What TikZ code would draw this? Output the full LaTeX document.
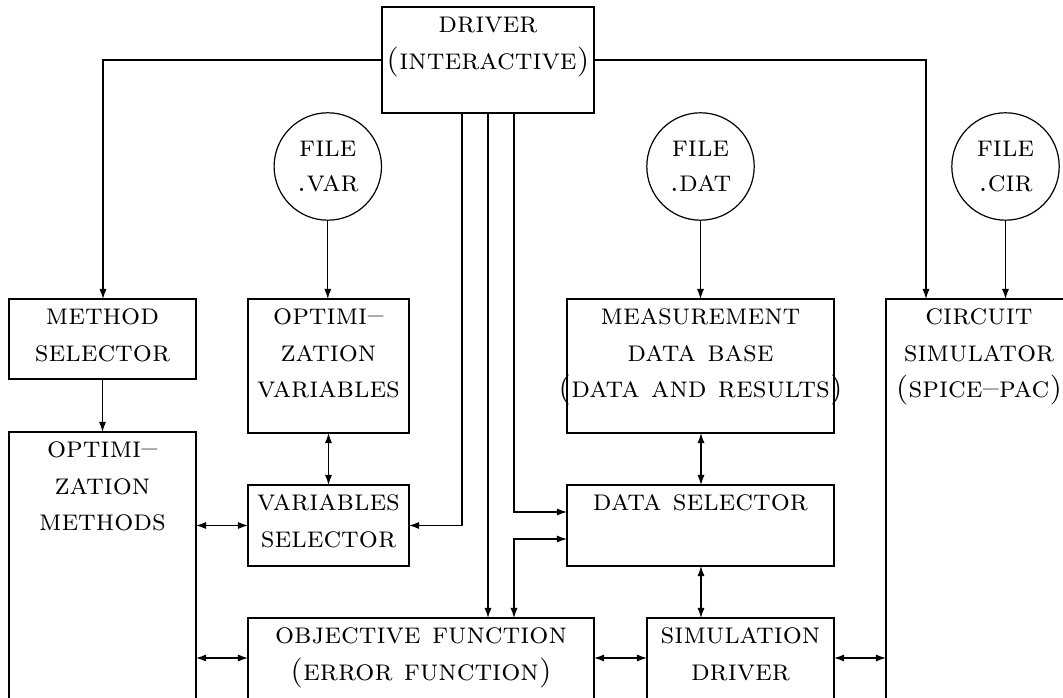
\documentclass[tikz,border=0pt]{standalone}
\usetikzlibrary{arrows.meta}
\newcommand\blk[6]{\node[blk,anchor=north west] (#1) at (#2,#3) {\parbox[c][\dimexpr(#5pt-#3pt)/3\relax][t]{\dimexpr(#4pt-#2pt)/3\relax}{\centering\baselineskip=12pt\relax\strut #6\par}};}
\tikzset{
  blk/.style={draw, inner sep=0pt, outer sep=0pt, rectangle},
  filec/.style={draw, circle, inner sep=0pt, outer sep=0pt, minimum size=107.4*0.33333pt, align=center},
  arr/.style={-{Latex[length=3.4pt,width=2.4pt]}},
  darr/.style={{Latex[length=3.4pt,width=2.4pt]}-{Latex[length=3.4pt,width=2.4pt]}},
}
\begin{document}
\begin{tikzpicture}[x=0.33333pt,y=-0.33333pt, line width=0.4pt]
\useasboundingbox (0,0) rectangle (1063,698);
\fill[white] (0,0) rectangle (1063,698);
\clip (0,0) rectangle (1063,698);
% blocks
\blk{drv}{382}{7}{594}{113}{\vspace*{0.5pt}\textsc{driver}\\\textsc{(interactive)}}
\blk{msel}{9}{299}{196}{379}{\vspace*{0.5pt}\textsc{method}\\\textsc{selector}}
\blk{ovar}{248}{299}{409}{433}{\vspace*{0.5pt}\textsc{optimi--}\\\textsc{zation}\\\textsc{variables}}
\blk{meas}{567}{299}{834}{433}{\vspace*{0.5pt}\textsc{measurement}\\\textsc{data base}\\\makebox[\linewidth][c]{\textsc{(data and results)}}}
\blk{csim}{886}{299}{1072}{780}{\vspace*{0.5pt}\textsc{circuit}\\\textsc{simulator}\\\textsc{(spice--pac)}}
\blk{ometh}{9}{432}{196}{780}{\vspace*{0.5pt}\textsc{optimi--}\\\textsc{zation}\\\textsc{methods}}
\blk{vsel}{248}{485}{409}{566}{\vspace*{0.5pt}\textsc{variables}\\\textsc{selector}}
\blk{dsel}{567}{485}{834}{566}{\vspace*{0.5pt}\textsc{data selector}}
\blk{obj}{248}{618}{594}{780}{\vspace*{0.5pt}\textsc{objective function}\\\textsc{(error function)}}
\blk{sdrv}{647}{618}{834}{780}{\vspace*{0.5pt}\textsc{simulation}\\\textsc{driver}}
% files
\node[filec] (fvar) at (327.8,166.5) {\textsc{file}\\[-0.4pt]\textsc{.var}};
\node[filec] (fdat) at (700.5,166.5) {\textsc{file}\\[-0.4pt]\textsc{.dat}};
\node[filec] (fcir) at (1005.5,166.5) {\textsc{file}\\[-0.4pt]\textsc{.cir}};
% helper coordinates
\coordinate (xa) at (103,0);
\coordinate (xb) at (926,0);
\coordinate (x1) at (462,0);
\coordinate (x2) at (488,0);
\coordinate (x3) at (514,0);
\coordinate (yd) at (0,60);
\coordinate (ylow) at (0,658);
\coordinate (yds1) at (0,512);
\coordinate (yds2) at (0,539);
\coordinate (xc) at (701,0);
% connectors
\draw[arr] (drv.west |- yd) -| (msel.north -| xa);
\draw[arr] (drv.east |- yd) -| (csim.north -| xb);
\draw[arr] (drv.south -| x1) |- (vsel.east);
\draw[arr] (drv.south -| x2) -- (obj.north -| x2);
\draw[arr] (drv.south -| x3) |- (dsel.west |- yds1);
\draw[darr] (obj.north -| x3) |- (dsel.west |- yds2);
\draw[arr] (msel.south) -- (ometh.north -| msel.south);
\draw[arr] (fvar) -- (ovar.north -| fvar);
\draw[arr] (fdat) -- (meas.north -| fdat);
\draw[arr] (fcir) -- (csim.north -| fcir);
\draw[darr] (ovar.south) -- (vsel.north);
\draw[darr] (ometh.east |- vsel.west) -- (vsel.west);
\draw[darr] (ometh.east |- ylow) -- (obj.west |- ylow);
\draw[darr] (obj.east |- ylow) -- (sdrv.west |- ylow);
\draw[darr] (sdrv.east |- ylow) -- (csim.west |- ylow);
\draw[darr] (meas.south -| xc) -- (dsel.north -| xc);
\draw[darr] (dsel.south -| xc) -- (sdrv.north -| xc);
\end{tikzpicture}
\end{document}
